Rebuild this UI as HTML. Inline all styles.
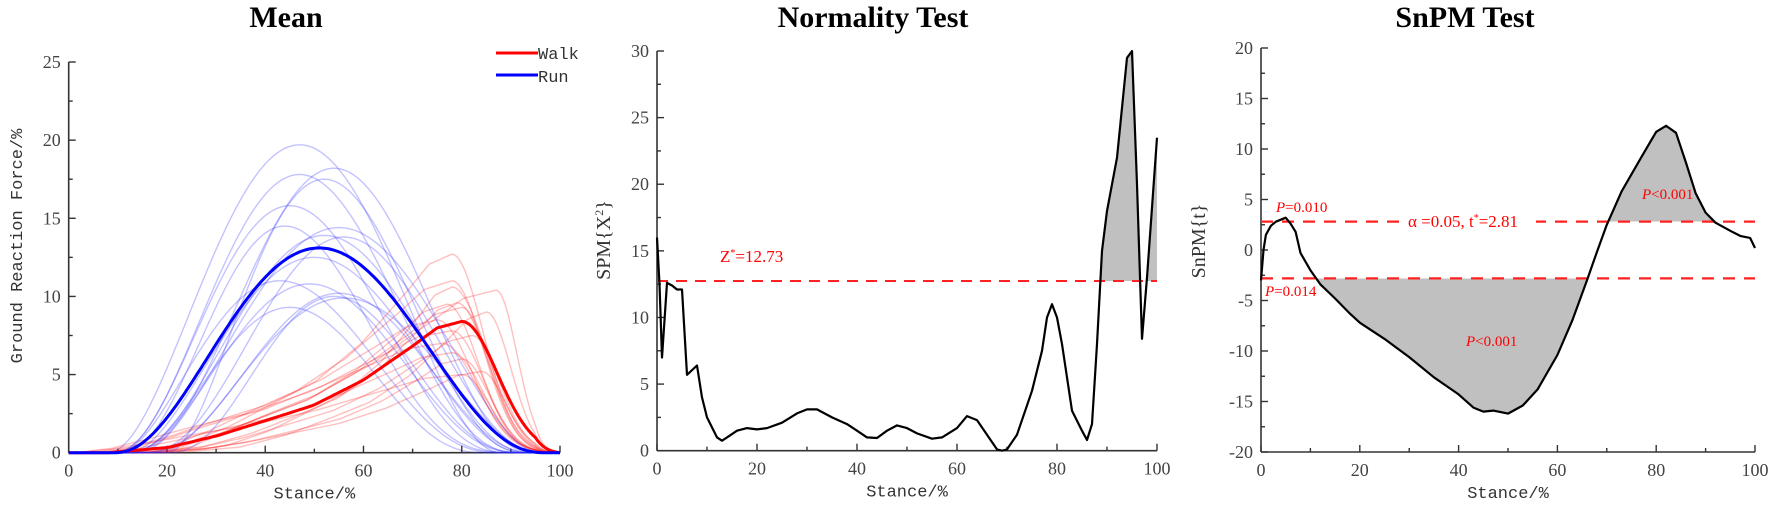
<!DOCTYPE html>
<html><head><meta charset="utf-8">
<style>
html,body{margin:0;padding:0;background:#fff;}
svg{display:block}
.tl{font-family:"Liberation Serif",serif;font-size:18px;fill:#444}
.ti{font-family:"Liberation Serif",serif;font-weight:bold;font-size:30px;fill:#000}
.ax{font-family:"Liberation Mono",monospace;font-size:17px;fill:#333}
.ys{font-family:"Liberation Serif",serif;font-size:20px;fill:#333}
.rd{font-family:"Liberation Serif",serif;font-size:15px;fill:#f00}
</style></head><body>
<svg id="s" width="1772" height="511" viewBox="0 0 1772 511" xmlns="http://www.w3.org/2000/svg">
<defs>
<clipPath id="c2"><rect x="1080" y="0" width="100" height="281"/></clipPath>
<clipPath id="c3u"><rect x="1560" y="0" width="200" height="221.6"/></clipPath>
<clipPath id="c3d"><rect x="1300" y="278.4" width="300" height="200"/></clipPath>
</defs>
<text class="ti" x="286" y="27" text-anchor="middle">Mean</text>
<text class="ti" x="873" y="27" text-anchor="middle">Normality Test</text>
<text class="ti" x="1465" y="27" text-anchor="middle">SnPM Test</text>
<g id="g"></g>
</svg>
<script>
var g=document.getElementById('g'),h='';
function ln(x1,y1,x2,y2,st){h+='<line x1="'+x1+'" y1="'+y1+'" x2="'+x2+'" y2="'+y2+'" style="'+st+'"/>';}
function tx(x,y,t,c,a,ex){h+='<text class="'+c+'" x="'+x+'" y="'+y+'" text-anchor="'+(a||'middle')+'" '+(ex||'')+'>'+t+'</text>';}
function axes(x0,x100,y0,ytop,ymin,ymax,ystep,yminor){
  var sx=(x100-x0)/100, sy=(y0-ytop)/(ymax-ymin);
  var ybot=y0;
  ln(x0,ytop,x0,ybot,'stroke:#333;stroke-width:1.6');
  ln(x0,ybot,x100,ybot,'stroke:#333;stroke-width:1.6');
  for(var v=ymin;v<=ymax+1e-6;v+=yminor){var y=ybot-(v-ymin)*sy;var mj=Math.abs(v/ystep-Math.round(v/ystep))<1e-6;ln(x0,y,x0+(mj?7:4),y,'stroke:#333;stroke-width:1.4');if(mj)tx(x0-8,y+6,v<0?'-'+(-v):v,'tl','end');}
  for(var x=0;x<=100;x+=10){var X=x0+x*sx;var mj=x%20==0;ln(X,ybot,X,ybot-(mj?7:4),'stroke:#333;stroke-width:1.4');if(mj)tx(X,ybot+24,x,'tl');}
  tx((x0+x100)/2,ybot+46,'Stance/%','ax');
}
var X1=function(x){return 68.7+x*4.913},Y1=function(v){return 452.7-v*15.63};
axes(68.7,560,452.7,62,0,25,5,2.5);
tx(0,0,'Ground Reaction Force/%','ax','middle','transform="translate(22,246) rotate(-90)"');
function beta(p,pos,s,e,a){var up=(pos-s)/(e-s);var b=a*(1-up)/up;var fp=Math.pow(up,a)*Math.pow(1-up,b);var pts=[];for(var x=0;x<=100;x+=0.5){var v=0;if(x>s&&x<e){var u=(x-s)/(e-s);v=p*Math.pow(u,a)*Math.pow(1-u,b)/fp;}pts.push(X1(x).toFixed(1)+','+Y1(v).toFixed(1));}return pts.join(' ');}
var T=[[0,0],[0.17,0.04],[0.31,0.13],[0.44,0.24],[0.58,0.36],[0.72,0.55],[0.86,0.81],[0.93,0.95],[1,1]];
function tmpl(u,k){u=Math.pow(u,k);for(var i=1;i<T.length;i++){if(u<=T[i][0]){var t=(u-T[i-1][0])/(T[i][0]-T[i-1][0]);return T[i-1][1]+t*(T[i][1]-T[i-1][1]);}}return 1;}
function rc(p,pk,s,w,k){var pts=[];for(var x=0;x<=100;x+=0.5){var v=0;if(x>s&&x<=pk){v=p*tmpl((x-s)/(pk-s),k);}else if(x>pk){v=p*Math.exp(-Math.pow((x-pk)/w,2));v*=Math.min(1,(100-x)/5);if(v<0)v=0;}pts.push(X1(x).toFixed(1)+','+Y1(v).toFixed(1));}return pts.join(' ');}
function pl(pts,st){h+='<polyline points="'+pts+'" style="fill:none;'+st+'"/>';}
var red=[[12.7,78,12,9],[11,78,14,9],[10.6,78,18,10],[10.4,87,20,6],[9.5,77,10,9],[9.3,80,16,8],[9,85,20,7],[7.8,78,8,9],[7.5,82,15,8],[6.4,78,6,9],[6,80,12,8],[5,80,2,8],[5.2,84,15,7],[8.5,75,5,10],[9.6,79,12,9],[7,76,3,10]];
red.forEach(function(r,i){pl(rc(r[0],r[1],r[2],r[3],[1,0.8,1.2,0.7][i%4]),'stroke:rgba(255,0,0,0.25);stroke-width:1.4');});
var blue=[[19.7,47,8,88],[17.8,47,9,92],[18.2,54,12,95],[17.5,52,20,93],[15.8,45,9,90],[14.5,44,10,92],[14.4,55,14,96],[13.9,52,12,94],[13.8,56,15,97],[11,43,10,88],[10.8,49,12,92],[10.2,55,15,95],[9.9,56,18,96],[9.3,45,12,85],[10,54,20,93],[12.5,50,12,93]];
blue.forEach(function(r,i){pl(beta(r[0],r[1],r[2],r[3],2+(i%3)*0.3),'stroke:rgba(40,40,255,0.28);stroke-width:1.4');});
pl(rc(8.4,80,8,10.2,1),'stroke:#f00;stroke-width:3');
pl(beta(13.1,51,9.5,97,2.2),'stroke:#00f;stroke-width:3');
ln(496,53,538,53,'stroke:#f00;stroke-width:3');ln(496,75,538,75,'stroke:#00f;stroke-width:3');
tx(538,59,'Walk','ax','start');tx(538,82,'Run','ax','start');
var X2=function(x){return 657+x*5},Y2=function(v){return 450.7-v*13.32};
axes(657,1157,450.7,51,0,30,5,2.5);
tx(0,0,'SPM{X<tspan dy="-7" font-size="12">2</tspan><tspan dy="7">}</tspan>','ys','middle','transform="translate(610,240) rotate(-90)"');
var d2=[[0,16],[0.5,12.5],[1,7],[2,12.6],[3,12.4],[4,12.1],[5,12.1],[6,5.7],[8,6.4],[9,4],[10,2.5],[12,1],[13,0.75],[14,1],[16,1.5],[18,1.7],[20,1.6],[22,1.7],[25,2.1],[28,2.8],[30,3.1],[32,3.1],[35,2.5],[38,2],[40,1.5],[42,1],[44,0.95],[46,1.5],[48,1.9],[50,1.7],[52,1.3],[55,0.9],[57,1],[60,1.7],[62,2.6],[64,2.3],[66,1.2],[68,0.1],[69,0],[70,0.1],[72,1.2],[75,4.5],[77,7.5],[78,10],[79,11],[80,10],[81,8],[83,3],[85,1.5],[86,0.8],[87,2],[88,8],[89,15],[90,18],[92,22],[94,29.5],[95,30],[96,20],[97,8.4],[98,13],[100,23.5]];
var p2=d2.map(function(p){return X2(p[0]).toFixed(1)+','+Y2(p[1]).toFixed(1)}).join(' ');
h+='<polygon clip-path="url(#c2)" points="'+p2+' '+X2(100)+','+Y2(12.73)+' '+X2(0)+','+Y2(12.73)+'" style="fill:#c0c0c0"/>';
ln(657,281,1157,281,'stroke:#f22;stroke-width:2;stroke-dasharray:11,8');
pl(p2,'stroke:#000;stroke-width:2.2;stroke-linejoin:round');
tx(720,262,'Z<tspan dy="-6" font-size="10">*</tspan><tspan dy="6">=12.73</tspan>','rd','start','style="font-size:17px"');
var X3=function(x){return 1261+x*4.94},Y3=function(v){return 250-v*10.1};
axes(1261,1755,452,48,-20,20,5,2.5);
tx(0,0,'SnPM{t}','ys','middle','transform="translate(1205,241) rotate(-90)"');
var d3=[[0,-3],[0.5,0],[1,1.5],[2,2.4],[3,2.8],[4,3],[5,3.2],[6,2.6],[7,1.8],[8,-0.3],[10,-2],[12,-3.4],[15,-4.8],[18,-6.3],[20,-7.2],[25,-8.8],[30,-10.6],[35,-12.6],[40,-14.3],[43,-15.6],[45,-16],[47,-15.9],[50,-16.2],[53,-15.4],[56,-13.8],[60,-10.4],[63,-7],[66,-3],[68,-0.2],[70,2.5],[73,5.8],[77,9.2],[80,11.7],[82,12.3],[84,11.6],[86,8.7],[88,5.6],[90,3.7],[92,2.7],[95,1.9],[97,1.4],[98,1.3],[99,1.2],[100,0.2]];
var p3=d3.map(function(p){return X3(p[0]).toFixed(1)+','+Y3(p[1]).toFixed(1)}).join(' ');
h+='<polygon clip-path="url(#c3u)" points="'+p3+' '+X3(100)+','+Y3(2.81)+' '+X3(0)+','+Y3(2.81)+'" style="fill:#c0c0c0"/>';
h+='<polygon clip-path="url(#c3d)" points="'+p3+' '+X3(100)+','+Y3(-2.81)+' '+X3(0)+','+Y3(-2.81)+'" style="fill:#c0c0c0"/>';
ln(1261,221.6,1755,221.6,'stroke:#f22;stroke-width:2.2;stroke-dasharray:12,9');
ln(1261,278.4,1755,278.4,'stroke:#f22;stroke-width:2.2;stroke-dasharray:12,9');
h+='<rect x="1404" y="211" width="132" height="20" fill="#fff"/>';
pl(p3,'stroke:#000;stroke-width:2.2;stroke-linejoin:round');
tx(1408,227,'α =0.05, t<tspan dy="-6" font-size="10">*</tspan><tspan dy="6">=2.81</tspan>','rd','start','style="font-size:17px"');
tx(1276,212,'<tspan font-style="italic">P</tspan>=0.010','rd','start');
tx(1265,296,'<tspan font-style="italic">P</tspan>=0.014','rd','start');
tx(1642,199,'<tspan font-style="italic">P</tspan>&lt;0.001','rd','start');
tx(1466,346,'<tspan font-style="italic">P</tspan>&lt;0.001','rd','start');
g.innerHTML=h;
</script>
</body></html>
